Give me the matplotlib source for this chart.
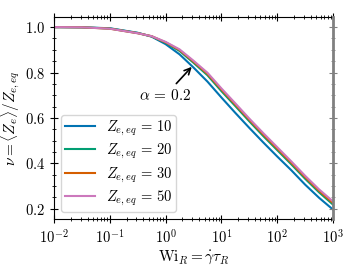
import matplotlib
matplotlib.use('Agg')
import matplotlib.pyplot as plt
import numpy as np
from matplotlib.ticker import FuncFormatter, MultipleLocator, LogLocator

plt.rcParams['mathtext.fontset'] = 'cm'
plt.rcParams['font.family'] = ['DejaVu Serif']
plt.rcParams['font.size'] = 10

log_wi = [-2.0, -1.5, -1.0, -0.5, -0.25, 0.0, 0.25, 0.5, 0.75, 1.0, 1.25, 1.5, 1.75, 2.0, 2.25, 2.5, 2.75, 3.0]

nu_z10 = [1.0, 0.999, 0.995, 0.975, 0.958, 0.925, 0.880, 0.822, 0.760, 0.690, 0.622, 0.556, 0.492, 0.430, 0.370, 0.306, 0.248, 0.196]
nu_z20 = [1.0, 0.999, 0.994, 0.974, 0.959, 0.931, 0.895, 0.843, 0.788, 0.718, 0.652, 0.585, 0.520, 0.458, 0.396, 0.332, 0.272, 0.218]
nu_z30 = [1.0, 0.999, 0.993, 0.973, 0.960, 0.933, 0.899, 0.848, 0.794, 0.725, 0.659, 0.592, 0.527, 0.465, 0.403, 0.339, 0.279, 0.225]
nu_z50 = [1.0, 0.999, 0.993, 0.973, 0.960, 0.935, 0.902, 0.852, 0.799, 0.730, 0.664, 0.597, 0.533, 0.471, 0.409, 0.345, 0.285, 0.232]

labels = [r'$Z_{e,eq} \,=\, 10$', r'$Z_{e,eq} \,=\, 20$', r'$Z_{e,eq} \,=\, 30$', r'$Z_{e,eq} \,=\, 50$']
colors = ['#0173b2', '#029e73', '#d55e00', '#cc78bc']

wi = 10.0 ** np.array(log_wi)

fig = plt.figure(figsize=(3.57, 2.68), dpi=100)
ax = fig.add_axes([0.151, 0.183, 0.782, 0.754])

for nu, lab, c in zip([nu_z10, nu_z20, nu_z30, nu_z50], labels, colors):
    ax.plot(wi, nu, color=c, lw=1.5, label=lab)

ax.set_xscale('log')
ax.set_xlim(1e-2, 1e3)
ax.set_ylim(0.155, 1.045)

ax.xaxis.set_major_locator(LogLocator(base=10, numticks=10))
ax.xaxis.set_minor_locator(LogLocator(base=10, subs=np.arange(2, 10), numticks=10))
ax.xaxis.set_major_formatter(FuncFormatter(lambda v, p: '$10^{%d}$' % int(round(np.log10(v)))))
ax.yaxis.set_major_locator(MultipleLocator(0.2))
ax.yaxis.set_minor_locator(MultipleLocator(0.05))
ax.yaxis.set_major_formatter(FuncFormatter(lambda v, p: '$%.1f$' % v))

ax.tick_params(which='both', direction='inout', top=True, right=False, labelsize=10.5)
ax.tick_params(which='major', length=6, width=0.8)
ax.tick_params(which='minor', length=3.5, width=0.6)
ax.spines['right'].set_visible(False)

# grey right-hand axis
ax2 = ax.twinx()
ax2.set_ylim(ax.get_ylim())
ax2.yaxis.set_major_locator(MultipleLocator(0.2))
ax2.yaxis.set_minor_locator(MultipleLocator(0.05))
for s in ['left', 'top', 'bottom']:
    ax2.spines[s].set_visible(False)
ax2.spines['right'].set_color('gray')
ax2.spines['right'].set_linewidth(2)
ax2.tick_params(which='both', direction='inout', colors='gray', labelright=False)
ax2.tick_params(which='major', length=6, width=0.8)
ax2.tick_params(which='minor', length=3.5, width=0.6)

ax.set_xlabel(r'$\mathrm{Wi}_R = \dot{\gamma}\tau_R$', fontsize=11, labelpad=2)
ax.set_ylabel(r'$\nu = \langle Z_e \rangle / Z_{e,eq}$', fontsize=11, labelpad=2)

ax.annotate(r'$\alpha \,=\, 0.2$', xy=(2.94, 0.825), xytext=(0.975, 0.697),
            ha='center', va='center', fontsize=11,
            arrowprops=dict(arrowstyle='->', color='black', lw=1.2, shrinkA=2, shrinkB=0))

ax.legend(loc='lower left', fontsize=10.5, handlelength=2.05, labelspacing=0.3,
          borderpad=0.25, handletextpad=0.75, borderaxespad=0.5)

fig.savefig('out.png', dpi=100)
